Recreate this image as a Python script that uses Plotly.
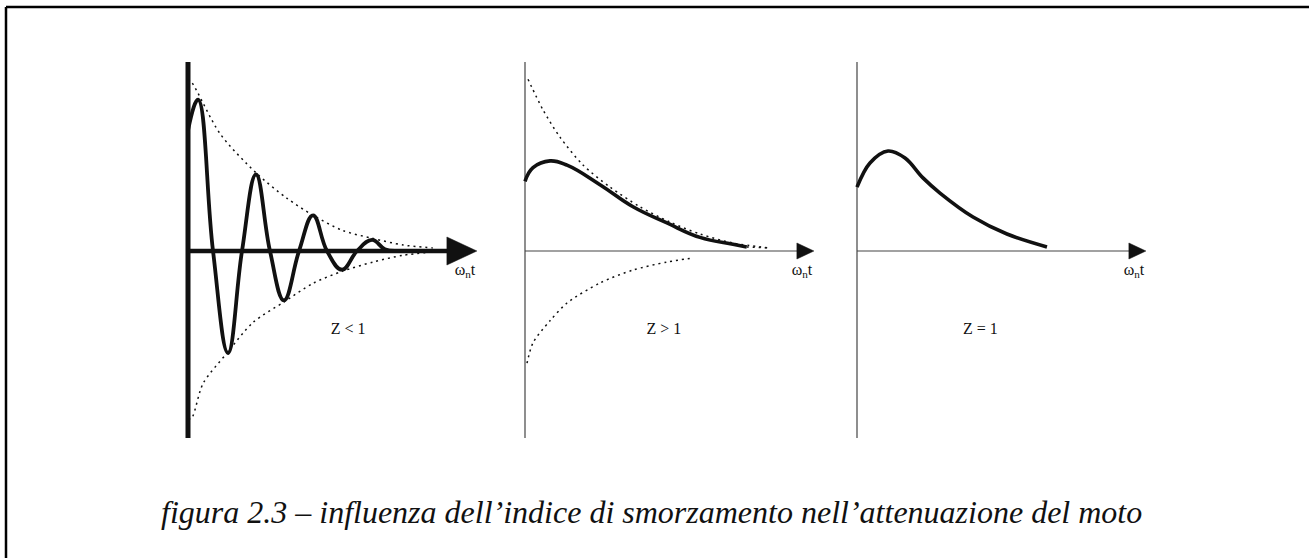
import plotly.graph_objects as go

# ---- figure geometry -------------------------------------------------------
W, H = 1309, 558
PX_PER_X = 9.2      # pixels per unit of omega_n * t
PX_PER_Y = 170.0    # pixels per unit of response amplitude

# origin (pixel) of each of the three small diagrams
panel_origin_x = [188, 525, 857]
origin_y = 251
axis_top_y, axis_bottom_y = 62, 438
x_axis_tip = 31.4   # horizontal axis length in omega_n*t units

# ---- Z < 1 : under-damped response and its envelopes -----------------------
under_t = [0.0, 1.09, 2.72, 4.35, 5.87, 7.39, 8.91, 10.43, 12.07, 13.59,
           15.11, 16.74, 18.37, 20.0, 21.4, 22.5]
under_y = [0.71, 0.89, 0.0, -0.60, 0.0, 0.45, 0.0, -0.29, 0.0, 0.21,
           0.0, -0.11, 0.0, 0.065, 0.01, 0.0]
under_env_t = [0.0, 0.43, 3.48, 7.39, 10.76, 13.59, 16.85, 20.0, 23.4, 26.6]
under_env_up = [1.01, 0.99, 0.69, 0.46, 0.31, 0.21, 0.12, 0.075, 0.035, 0.018]
under_env_lo_t = [0.0, 0.43, 1.63, 4.24, 7.07, 10.43, 13.59, 16.74, 20.11, 23.37, 26.6]
under_env_lo = [-0.99, -0.98, -0.78, -0.60, -0.42, -0.30, -0.19, -0.12, -0.065, -0.025, -0.006]

# ---- Z > 1 : over-damped response ------------------------------------------
over_t = [0.0, 0.87, 2.72, 4.57, 8.15, 11.74, 15.43, 19.02, 22.61, 24.1]
over_y = [0.41, 0.49, 0.53, 0.505, 0.39, 0.26, 0.165, 0.08, 0.04, 0.024]
over_tail_t = [24.1, 26.6]
over_tail_y = [0.024, 0.018]
over_env_up_t = [0.33, 1.96, 3.8, 6.3, 9.24, 12.5, 15.76, 19.02, 22.61, 26.6]
over_env_up = [1.01, 0.83, 0.67, 0.506, 0.376, 0.26, 0.17, 0.10, 0.047, 0.018]
over_env_lo_t = [0.22, 0.87, 2.72, 4.57, 8.15, 11.74, 15.43, 18.26]
over_env_lo = [-0.66, -0.54, -0.41, -0.306, -0.188, -0.112, -0.065, -0.041]

# ---- Z = 1 : critically damped response ------------------------------------
crit_t = [0.0, 1.41, 3.37, 5.22, 7.17, 9.02, 12.61, 16.3, 20.65]
crit_y = [0.376, 0.518, 0.588, 0.547, 0.43, 0.341, 0.2, 0.1, 0.024]

panel_labels = ["Z &lt; 1", "Z &gt; 1", "Z = 1"]
label_pos_t = [17.4, 15.1, 13.4]
label_pos_y = -0.465
axis_label = "ω<sub>n</sub>t"
caption = "figura 2.3 – influenza dell’indice di smorzamento nell’attenuazione del moto"

fig = go.Figure()
SERIF = "Liberation Serif"


def axis_names(i):
    return ("x" if i == 0 else f"x{i+1}"), ("y" if i == 0 else f"y{i+1}")


bare = dict(showgrid=False, zeroline=False, showline=False,
            showticklabels=False, ticks="", fixedrange=True)
layout_axes = {}
for i, ox in enumerate(panel_origin_x):
    left_px, right_px = ox - 10, ox + 320
    x_rng = [(left_px - ox) / PX_PER_X, (right_px - ox) / PX_PER_X]
    top_px, bot_px = 50, 450
    y_rng = [(origin_y - bot_px) / PX_PER_Y, (origin_y - top_px) / PX_PER_Y]
    suffix = "" if i == 0 else str(i + 1)
    xa, ya = axis_names(i)
    layout_axes["xaxis" + suffix] = dict(
        domain=[left_px / W, right_px / W], range=x_rng, anchor=ya, **bare)
    layout_axes["yaxis" + suffix] = dict(
        domain=[1 - bot_px / H, 1 - top_px / H], range=y_rng, anchor=xa, **bare)

heavy = [True, False, False]
# arrow head size in pixels: (length, half height)
arrow_px = [(30, 14), (17, 8), (17, 8)]
for i in range(3):
    xa, ya = axis_names(i)
    v_w = 5 if heavy[i] else 1.2
    h_w = 4.5 if heavy[i] else 1.2
    col = "#111" if heavy[i] else "#444"
    a_len, a_half = arrow_px[i]
    base = x_axis_tip - a_len / PX_PER_X
    hh = a_half / PX_PER_Y
    # vertical axis
    fig.add_trace(go.Scatter(
        x=[0, 0],
        y=[(origin_y - axis_top_y) / PX_PER_Y, (origin_y - axis_bottom_y) / PX_PER_Y],
        mode="lines", line=dict(color=col, width=v_w), xaxis=xa, yaxis=ya,
        hoverinfo="skip", showlegend=False))
    # horizontal axis
    fig.add_trace(go.Scatter(
        x=[0, base + 0.2], y=[0, 0], mode="lines",
        line=dict(color=col, width=h_w), xaxis=xa, yaxis=ya,
        hoverinfo="skip", showlegend=False))
    # arrow head
    fig.add_trace(go.Scatter(
        x=[base, x_axis_tip, base, base], y=[hh, 0, -hh, hh], mode="lines",
        fill="toself", fillcolor="#111", line=dict(color="#111", width=0.5),
        xaxis=xa, yaxis=ya, hoverinfo="skip", showlegend=False))
    # axis name and damping label
    fig.add_trace(go.Scatter(
        x=[x_axis_tip - 1.3, label_pos_t[i]], y=[-0.118, label_pos_y],
        mode="text", text=[axis_label, panel_labels[i]],
        textposition="middle center",
        textfont=dict(family=SERIF, size=16, color="#111"),
        xaxis=xa, yaxis=ya, hoverinfo="skip", showlegend=False))


def dotted(x, y, i):
    xa, ya = axis_names(i)
    fig.add_trace(go.Scatter(
        x=x, y=y, mode="lines", line=dict(color="#111", width=1.5, dash="2px,4px",
                                          shape="spline", smoothing=0.8),
        xaxis=xa, yaxis=ya, hoverinfo="skip", showlegend=False))


def solid(x, y, i, w=3.6, sm=1.2):
    xa, ya = axis_names(i)
    fig.add_trace(go.Scatter(
        x=x, y=y, mode="lines", line=dict(color="#111", width=w,
                                          shape="spline", smoothing=sm),
        xaxis=xa, yaxis=ya, hoverinfo="skip", showlegend=False))


# Z < 1
dotted(under_env_t, under_env_up, 0)
dotted(under_env_lo_t, under_env_lo, 0)
solid(under_t, under_y, 0, w=3.8)
# Z > 1
dotted(over_env_up_t, over_env_up, 1)
dotted(over_env_lo_t, over_env_lo, 1)
dotted(over_tail_t, over_tail_y, 1)
solid(over_t, over_y, 1)
# Z = 1
solid(crit_t, crit_y, 2, sm=1.0)

# caption
fig.add_annotation(
    x=651 / W, y=1 - 512 / H, xref="paper", yref="paper", text=f"<i>{caption}</i>",
    showarrow=False, xanchor="center", yanchor="middle",
    font=dict(family=SERIF, size=32, color="#111"))

# frame: top and left rule
fig.add_shape(type="line", xref="paper", yref="paper", x0=6 / W, x1=1.0,
              y0=1 - 7 / H, y1=1 - 7 / H, line=dict(color="black", width=2.5))
fig.add_shape(type="line", xref="paper", yref="paper", x0=6 / W, x1=6 / W,
              y0=1 - 7 / H, y1=0, line=dict(color="black", width=2.5))

fig.update_layout(
    width=W, height=H, margin=dict(l=0, r=0, t=0, b=0),
    paper_bgcolor="white", plot_bgcolor="rgba(0,0,0,0)",
    showlegend=False, **layout_axes)

fig.write_html("out.html", config={"displayModeBar": False})
